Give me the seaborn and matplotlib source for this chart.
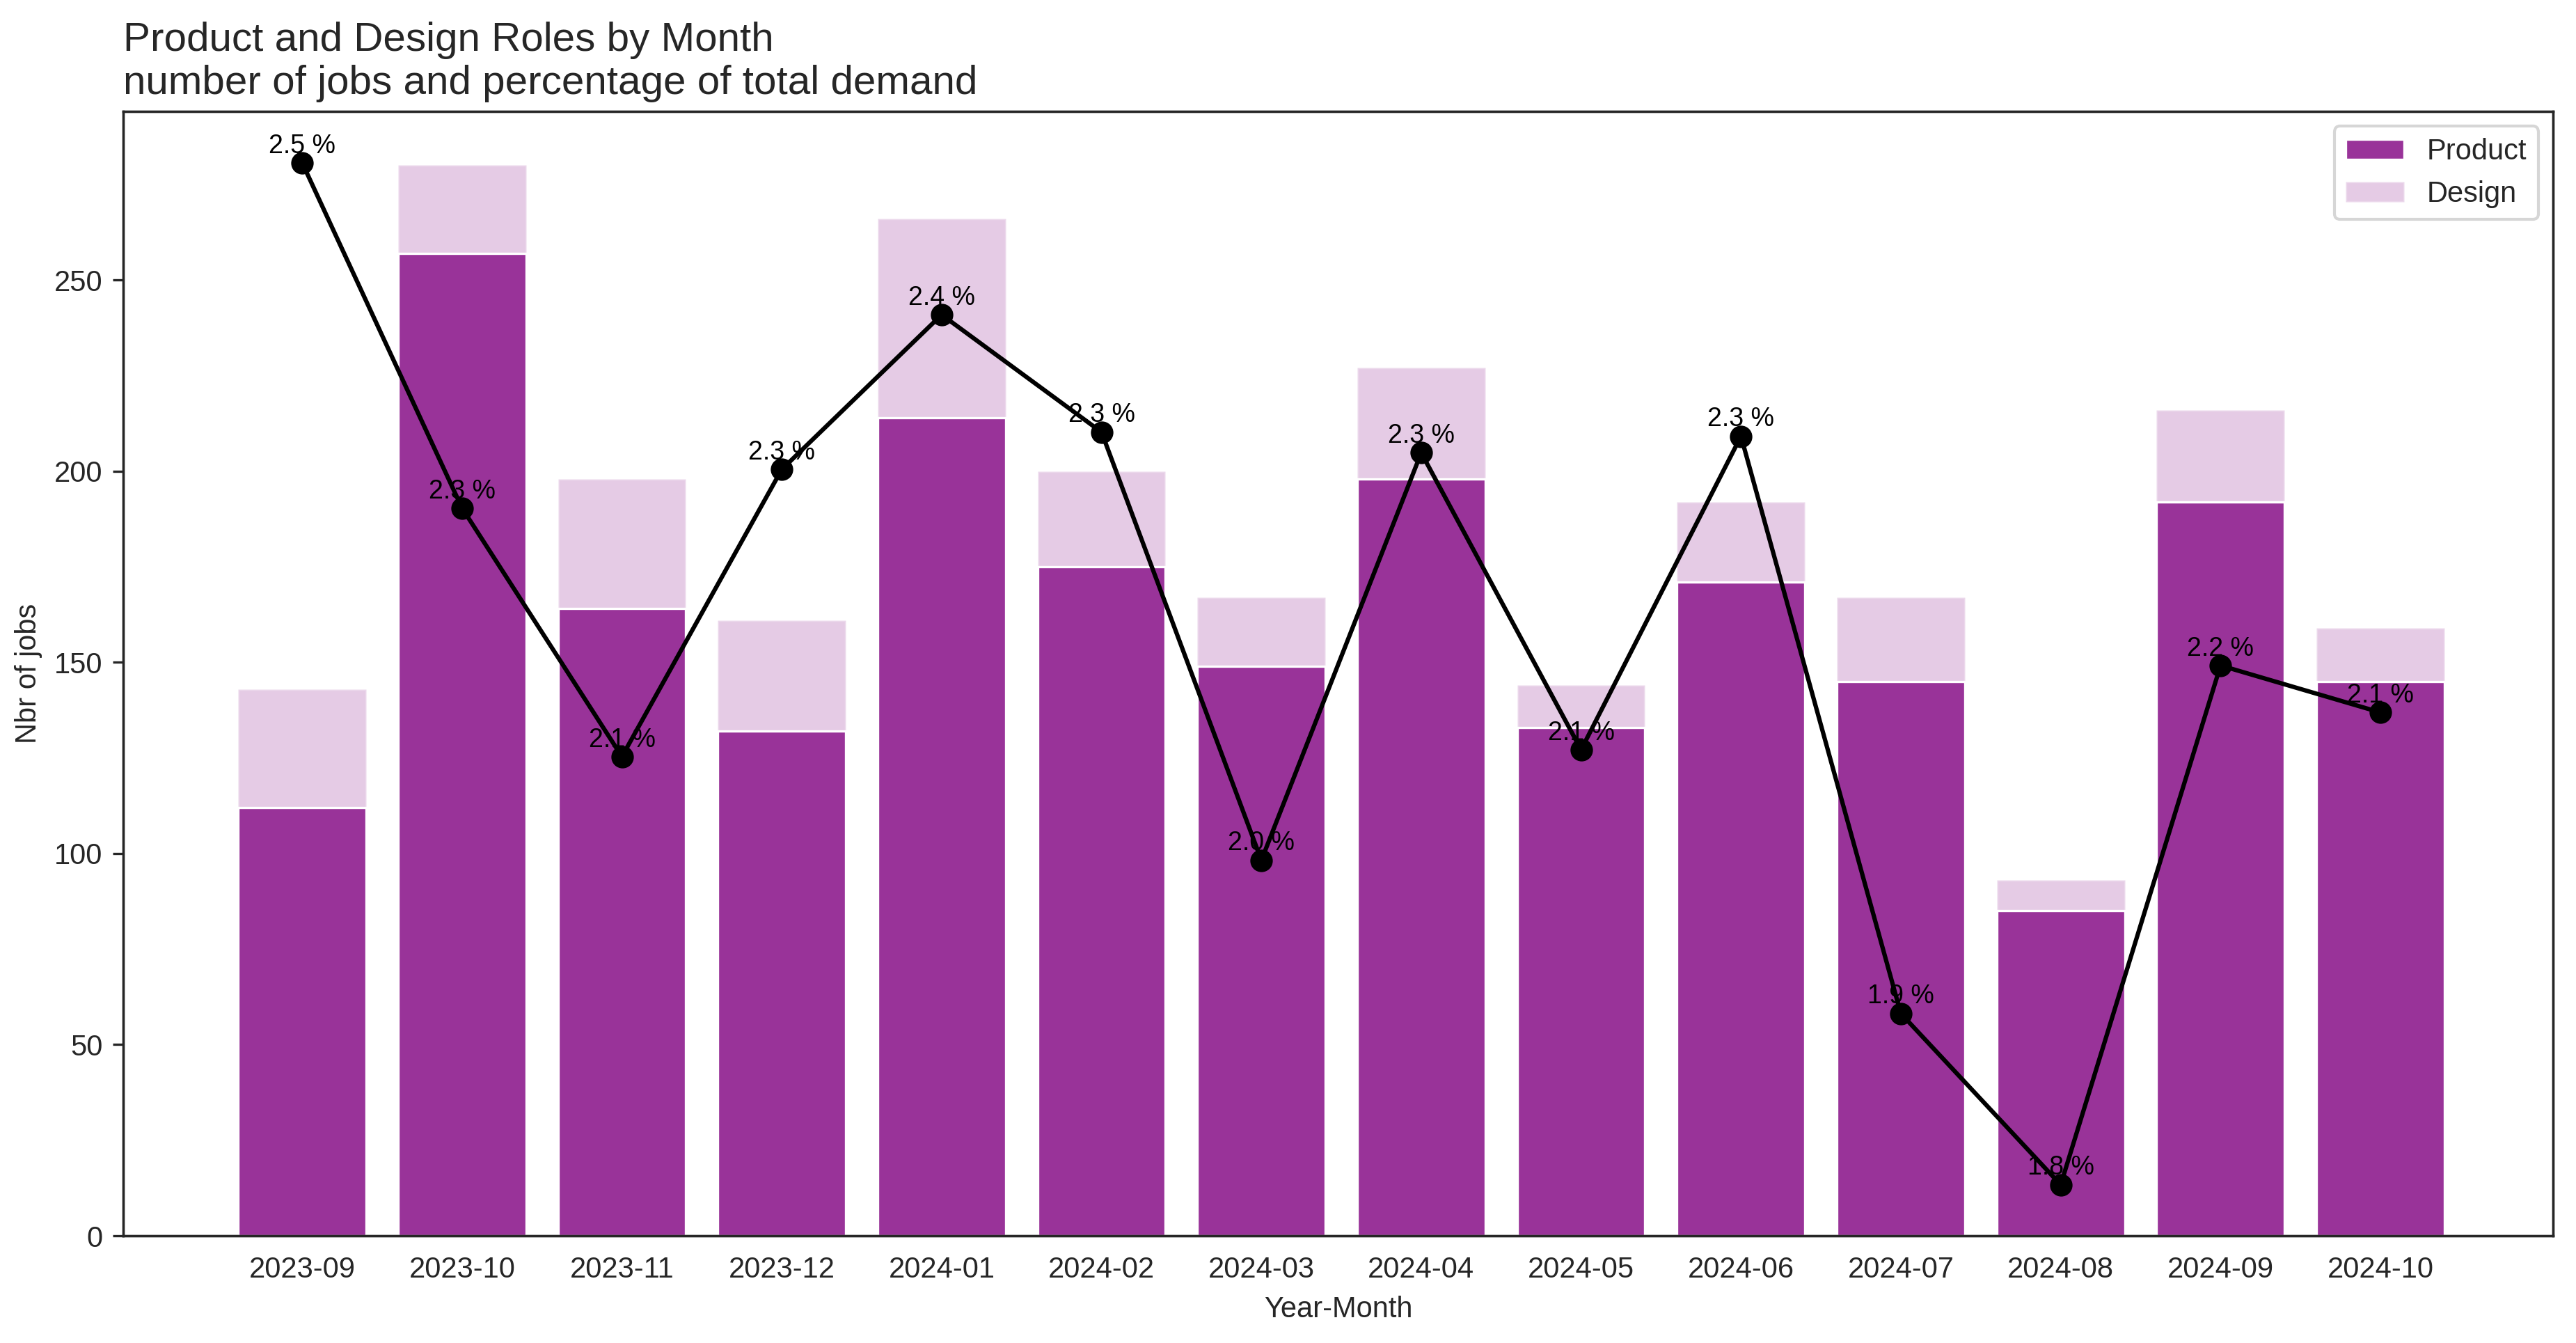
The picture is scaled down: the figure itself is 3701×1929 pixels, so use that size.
import numpy as np
import pandas as pd
import matplotlib.pyplot as plt
import seaborn as sns

# --- data ---
months = ['2023-09', '2023-10', '2023-11', '2023-12', '2024-01', '2024-02', '2024-03',
          '2024-04', '2024-05', '2024-06', '2024-07', '2024-08', '2024-09', '2024-10']
product_jobs = [112, 257, 164, 132, 214, 175, 149, 198, 133, 171, 145, 85, 192, 145]
design_jobs = [31, 23, 34, 29, 52, 25, 18, 29, 11, 21, 22, 8, 24, 14]
pct_of_total = [2.52, 2.27, 2.09, 2.298, 2.41, 2.325, 2.015, 2.31, 2.095, 2.322, 1.904, 1.78, 2.156, 2.122]

df = pd.DataFrame({'month': months, 'Product': product_jobs, 'Design': design_jobs,
                   'pct': pct_of_total})
df['total'] = df['Product'] + df['Design']

sns.set_theme(style='white')
plt.rcParams['font.family'] = ['Liberation Sans', 'DejaVu Sans']

purple = '#993399'

fig = plt.figure(figsize=(3701 / 300, 1929 / 300), dpi=300)
ax = fig.add_axes([0.0478, 0.0798, 0.9433, 0.837])

# design stacked on top of product (total drawn first, product over it)
sns.barplot(data=df, x='month', y='total', color=purple, alpha=0.25, saturation=1,
            edgecolor='white', linewidth=0.8, label='Design', ax=ax)
sns.barplot(data=df, x='month', y='Product', color=purple, saturation=1,
            edgecolor='white', linewidth=0.8, label='Product', ax=ax)

ax.set_xlim(-1.12, 14.08)
ax.set_ylim(0, 294)
ax.set_yticks(range(0, 300, 50))
ax.set_xlabel('Year-Month', fontsize=10)
ax.set_ylabel('Nbr of jobs', fontsize=10)
ax.tick_params(axis='x', bottom=False, length=3.5, pad=3.5, labelsize=10)
ax.tick_params(axis='y', left=True, length=3.5, width=0.8, pad=3.5, labelsize=10)
for s in ax.spines.values():
    s.set_visible(True)
    s.set_linewidth(0.8)

handles, labels = ax.get_legend_handles_labels()
order = [labels.index('Product'), labels.index('Design')]
ax.legend([handles[i] for i in order], [labels[i] for i in order],
          loc='upper right', fontsize=10)

# percentage line on a hidden secondary axis
ax2 = ax.twinx()
xpos = np.arange(len(months))
sns.lineplot(x=xpos, y=df['pct'], color='black', marker='o', markersize=7,
             markeredgecolor='black', linewidth=1.5, ax=ax2)
for x, v in zip(xpos, df['pct']):
    ax2.annotate(f'{v:.1f} %', (x, v), xytext=(0, 1.5), textcoords='offset points',
                 ha='center', va='bottom', fontsize=9, color='black')
ax2.set_yticks([])
ax2.set_ylabel('')
ax2.set_xlim(-1.12, 14.08)
for s in ax2.spines.values():
    s.set_linewidth(0.8)

ax.set_title('Product and Design Roles by Month\nnumber of jobs and percentage of total demand',
             loc='left', fontsize=14)

plt.savefig('out.png', dpi=300)
